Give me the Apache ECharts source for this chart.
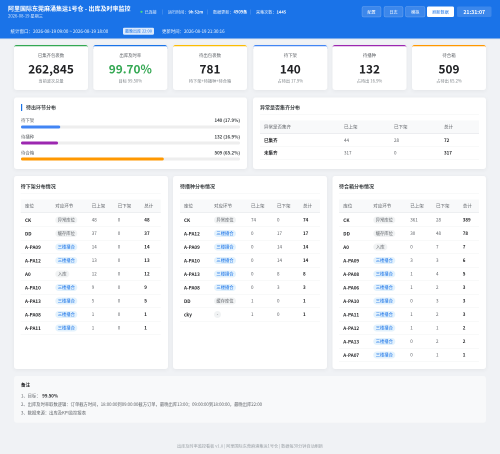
<!DOCTYPE html>
<html><head><meta charset="utf-8"><title>出库及时率监控</title>
<style>html,body{margin:0;padding:0;background:#f0f2f5}#c{width:500px;height:454px}</style>
<script src="https://cdn.jsdelivr.net/npm/echarts@6/dist/echarts.min.js"></script></head>
<body><div id="c"></div><script>
// ---- data ----
const pageTitle = '阿里国际东莞麻涌集运1号仓 - 出库及时率监控';
const pageDate = '2026-08-19 星期三';
const statusItems = ['已连接', '运行时间：', '数据更新：', '采集次数：'];
const statusValues = ['', '9h 52m', '4909条', '1445'];
const buttonLabels = ['配置', '日志', '模拟', '刷新数据'];
const clockText = '21:31:07';
const windowText = '统计窗口：2026-08-19 09:00 ~ 2026-08-19 18:00';
const badgeText = '最晚出库 22:00';
const updateText = '更新时间：2026-08-19 21:30:16';
const kpiLabels = ['已集齐包裹数', '出库及时率', '待出包裹数', '待下架', '待播种', '待合箱'];
const kpiValues = ['262,845', '99.70%', '781', '140', '132', '509'];
const kpiNotes = ['当前波次总量', '目标 99.50%', '待下架+待播种+待合箱', '占待出 17.9%', '占待出 16.9%', '占待出 65.2%'];
const stageNames = ['待下架', '待播种', '待合箱'];
const stageCounts = [140, 132, 509];
const stageShares = [17.9, 16.9, 65.2];
const anomalyHeader = ['异常是否集齐', '已上架', '已下架', '总计'];
const anomalyRows = [['已集齐', 44, 28, 72], ['未集齐', 317, 0, 317]];
const tableHeader = ['库位', '对应环节', '已上架', '已下架', '总计'];
const tableTitles = ['待下架分布情况', '待播种分布情况', '待合箱分布情况'];
const pickRows = [
  ['CK', '异常库位', 48, 0, 48], ['DD', '缓存库位', 37, 0, 37], ['A-PA09', '三楼播合', 14, 0, 14],
  ['A-PA12', '三楼播合', 13, 0, 13], ['A0', '入库', 12, 0, 12], ['A-PA10', '三楼播合', 9, 0, 9],
  ['A-PA13', '三楼播合', 5, 0, 5], ['A-PA08', '三楼播合', 1, 0, 1], ['A-PA11', '三楼播合', 1, 0, 1]];
const seedRows = [
  ['CK', '异常库位', 74, 0, 74], ['A-PA12', '三楼播合', 0, 17, 17], ['A-PA09', '三楼播合', 0, 14, 14],
  ['A-PA10', '三楼播合', 0, 14, 14], ['A-PA13', '三楼播合', 0, 8, 8], ['A-PA08', '三楼播合', 0, 3, 3],
  ['DD', '缓存库位', 1, 0, 1], ['cky', '-', 1, 0, 1]];
const packRows = [
  ['CK', '异常库位', 361, 28, 389], ['DD', '缓存库位', 30, 48, 78], ['A0', '入库', 0, 7, 7],
  ['A-PA09', '三楼播合', 3, 3, 6], ['A-PA08', '三楼播合', 1, 4, 5], ['A-PA06', '三楼播合', 1, 2, 3],
  ['A-PA10', '三楼播合', 0, 3, 3], ['A-PA11', '三楼播合', 1, 2, 3], ['A-PA12', '三楼播合', 1, 1, 2],
  ['A-PA13', '三楼播合', 0, 2, 2], ['A-PA07', '三楼播合', 0, 1, 1]];
const noteLines = [
  ['1、目标：', '99.50%'],
  ['2、出库及时率取数逻辑：订单截方时间，18:00:00到09:00:00截方订单，最晚出库13:00；09:00:00到18:00:00，最晚出库22:00', ''],
  ['3、数据来源：出库及KPI监控报表', '']];
const footerText = '出库及时率监控看板 v1.0 | 阿里国际东莞麻涌集运1号仓 | 数据每30分钟自动刷新';

// ---- drawing helpers ----
const FF = '"Noto Sans CJK SC","Noto Sans",sans-serif';
const g = [];
function T(x, y, text, size, fill, o) {
  o = o || {};
  g.push({ type: 'text', silent: true, x, y, z: o.z || 1, style: {
    text: String(text), fill, textAlign: o.align || 'left', textVerticalAlign: 'middle',
    font: (o.bold ? 'bold ' : '') + size + 'px ' + FF } });
}
function R(x, y, w, h, fill, o) {
  o = o || {};
  g.push({ type: 'rect', silent: true, z: o.z || 0, shape: { x, y, width: w, height: h, r: o.r || 0 }, style: {
    fill, stroke: o.stroke || null, lineWidth: o.lw || 0,
    shadowBlur: o.sb || 0, shadowColor: o.sc || 'transparent', shadowOffsetY: o.sy || 0 } });
}
function card(x, y, w, h, fill) {
  R(x, y, w, h, fill || '#fff', { r: 2.5, sb: 4, sc: 'rgba(0,0,0,0.05)', sy: 1 });
}
function hLine(x, y, w, c, lw) { R(x, y, w, lw || 0.5, c, {}); }

// header
R(0, 0, 500, 38.5, '#1a73e8');
R(0, 38.5, 500, 1, '#dfe6f1');
T(8, 8.7, pageTitle, 6, '#fff', { bold: true });
T(8, 16, pageDate, 4.2, 'rgba(255,255,255,.85)');
g.push({ type: 'circle', silent: true, z: 1, shape: { cx: 141.5, cy: 11.8, r: 1.1 }, style: { fill: '#4ade80' } });
const sx = [144.5, 168, 213, 256], sepx = [162, 207.5, 250.5];
statusItems.forEach((s, i) => {
  T(sx[i], 12, s, 4.1, 'rgba(255,255,255,.9)');
  if (statusValues[i]) T(sx[i] + s.length * 4.1, 12, statusValues[i], 4.1, '#fff', { bold: true });
});
sepx.forEach(x => R(x, 9.5, 0.4, 5, 'rgba(255,255,255,.35)'));
const bx = [362, 384, 405.5], bw = [19, 19, 19.5];
bx.forEach((x, i) => {
  R(x, 6.5, bw[i], 10.5, 'rgba(255,255,255,.15)', { r: 1.5, stroke: 'rgba(255,255,255,.3)', lw: .5 });
  T(x + bw[i] / 2, 11.9, buttonLabels[i], 4.1, '#fff', { align: 'center' });
});
R(427, 6.5, 27, 10.5, '#fff', { r: 1.5 });
T(440.5, 11.9, buttonLabels[3], 4.1, '#1a73e8', { align: 'center' });
R(457, 6.5, 34.5, 10.5, 'rgba(255,255,255,.15)', { r: 1.5 });
T(474.2, 11.9, clockText, 5.2, '#fff', { bold: true, align: 'center' });
T(10.5, 31.2, windowText, 4.5, 'rgba(255,255,255,.95)');
R(123, 27.7, 31, 7, 'rgba(255,255,255,.85)', { r: 1.2 });
T(138.5, 31.2, badgeText, 4, '#1a73e8', { align: 'center' });
T(162, 31.2, updateText, 4.4, 'rgba(255,255,255,.95)');

// KPI cards
const kpiX = [14, 93.3, 173, 253.3, 332.5, 412];
const kpiColor = ['#34a853', '#1a73e8', '#fbbc04', '#4285f4', '#9c27b0', '#ff9800'];
const kpiFill = ['#202124', '#34a853', '#202124', '#202124', '#202124', '#202124'];
kpiLabels.forEach((l, i) => {
  const x = kpiX[i], w = 74;
  card(x, 45, w, 45, '#fff');
  g.push({ type: 'rect', silent: true, z: 0, shape: { x, y: 45, width: w, height: 4, r: [2.5, 2.5, 0, 0] }, style: { fill: kpiColor[i] } });
  g.push({ type: 'rect', silent: true, z: 0, shape: { x, y: 46.3, width: w, height: 4, r: [1.5, 1.5, 0, 0] }, style: { fill: '#fff' } });
  T(x + w / 2, 55.5, l, 4.4, '#5f6368', { align: 'center' });
  T(x + w / 2, 69, kpiValues[i], 11.8, kpiFill[i], { bold: true, align: 'center' });
  T(x + w / 2, 80.7, kpiNotes[i], 4.2, '#80868b', { align: 'center' });
});

// stage panel
card(14, 97.5, 233, 71.5);
R(21, 104, 1.2, 7, '#1a73e8');
T(26, 107.8, '待出环节分布', 5, '#3c4043', { bold: true });
stageNames.forEach((n, i) => {
  const y = 120.5 + i * 16.2;
  T(21, y, n, 4.4, '#5f6368');
  T(240, y, stageCounts[i] + ' (' + stageShares[i].toFixed(1) + '%)', 4.4, '#3c4043', { bold: true, align: 'right' });
});

// anomaly panel
card(253, 97.5, 233, 71.5);
T(260, 107.8, '异常是否集齐分布', 5, '#3c4043', { bold: true });
hLine(260, 114.5, 219, '#f1f3f4');
R(260, 120.5, 219, 13, '#f8f9fa');
hLine(260, 133.3, 219, '#e8eaed', .7);
const ax = [264, 344, 394, 444];
anomalyHeader.forEach((h, i) => T(ax[i], 127, h, 4.5, '#5f6368'));
anomalyRows.forEach((r, k) => {
  const y = 140.2 + k * 12.8;
  r.forEach((v, i) => T(ax[i], y, v, 4.5, (i === 0 || i === 3) ? '#202124' : '#5f6368', { bold: i === 0 || i === 3 }));
  hLine(260, y + 6.2, 219, '#f1f3f4');
});

// distribution tables
const panels = [
  { x: 14, w: 154, tx: 20.7, cols: [25, 55.3, 91.7, 117.7, 144.3], rows: pickRows },
  { x: 173, w: 154, tx: 180, cols: [184, 214, 251, 277, 303], rows: seedRows },
  { x: 332.5, w: 153.5, tx: 339, cols: [343.3, 373.3, 410.3, 436, 462.7], rows: packRows }];
panels.forEach((p, n) => {
  card(p.x, 176, p.w, 193);
  T(p.tx, 186.7, tableTitles[n], 5, '#3c4043', { bold: true });
  hLine(p.tx, 193.5, 140, '#f1f3f4');
  R(p.tx, 199.5, 140, 13, '#f8f9fa');
  hLine(p.tx, 212, 140, '#e8eaed', .7);
  tableHeader.forEach((h, i) => T(p.cols[i], 206, h, 4.5, '#5f6368'));
  p.rows.forEach((r, k) => {
    const y = 220 + k * 13.5;
    T(p.cols[0], y, r[0], 4.6, '#202124', { bold: true });
    const blue = r[1] === '三楼播合', tw = r[1].length * 4 + 6;
    R(p.cols[1], y - 3.5, r[1] === '-' ? 7 : tw, 7, blue ? '#e3f2fd' : '#f1f3f4', { r: 3.5 });
    T(p.cols[1] + (r[1] === '-' ? 7 : tw) / 2, y, r[1], 4.3, blue ? '#1a73e8' : '#5f6368', { align: 'center' });
    T(p.cols[2], y, r[2], 4.5, '#5f6368');
    T(p.cols[3], y, r[3], 4.5, '#5f6368');
    T(p.cols[4], y, r[4], 4.5, '#202124', { bold: true });
    hLine(p.tx, y + 6.5, 140, '#f1f3f4');
  });
});

// notes + footer
R(14, 376, 472, 46.7, '#f8f9fa', { r: 2.5 });
T(21, 385, '备注', 4.5, '#202124', { bold: true });
noteLines.forEach((l, i) => {
  const y = 396 + i * 8.5;
  T(21, y, l[0], 4.3, '#5f6368');
  if (l[1]) T(42.3, y, l[1], 4.3, '#202124', { bold: true });
});
T(250, 445.7, footerText, 4.15, '#9aa0a6', { align: 'center' });

// ---- chart ----
const chart = echarts.init(document.getElementById('c'), null, { width: 500, height: 454, devicePixelRatio: 2 });
const stageColors = ['#4285f4', '#9c27b0', '#ff9800'];
chart.setOption({
  animation: false,
  backgroundColor: '#f0f2f5',
  graphic: { elements: g },
  grid: { left: 21, top: 119, width: 219, height: 48, containLabel: false },
  xAxis: { type: 'value', min: 0, max: 100, show: false },
  yAxis: { type: 'category', inverse: true, data: stageNames, show: false },
  series: [{
    type: 'bar', barWidth: 3, silent: true,
    showBackground: true, backgroundStyle: { color: '#eeeeee', borderRadius: 1.5 },
    itemStyle: { borderRadius: 1.5 },
    data: stageShares.map((v, i) => ({ value: v, itemStyle: { color: stageColors[i] } }))
  }]
});
</script></body></html>
